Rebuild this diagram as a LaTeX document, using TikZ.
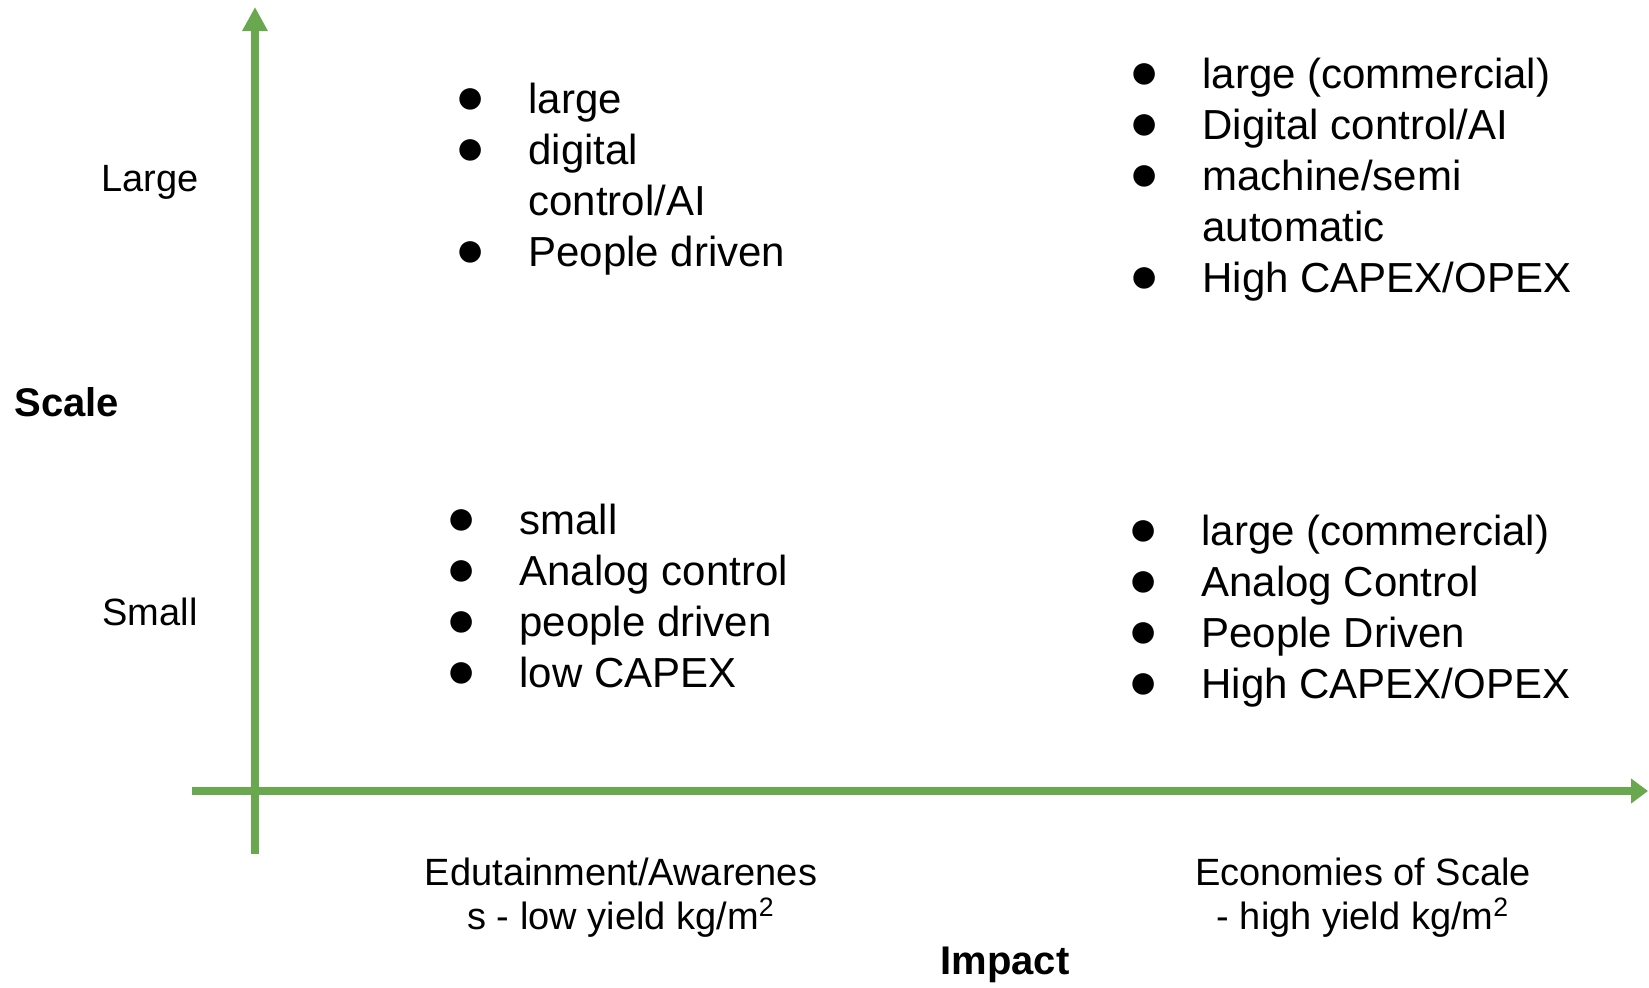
\documentclass[tikz,border=0pt]{standalone}
\usepackage{fontspec}
\setmainfont{Liberation Sans}
\usetikzlibrary{arrows.meta}
\definecolor{axisgreen}{HTML}{6AA84F}
\newcommand\bul{\makebox[34pt][l]{\hspace*{-2.5pt}{\fontsize{25pt}{25pt}\selectfont ●}}}
\newcommand\gap{\hspace*{34pt}}
\begin{document}
\begin{tikzpicture}[x=0.5pt,y=-0.5pt,
  axis/.style={axisgreen,line width=4pt},
  quad/.style={anchor=base west,inner sep=0pt,align=left,
    font=\fontsize{21pt}{25.5pt}\selectfont},
  side/.style={inner sep=0pt,font=\fontsize{19pt}{22pt}\selectfont},
  title/.style={inner sep=0pt,font=\fontsize{20pt}{24pt}\selectfont\bfseries}]
\useasboundingbox (0,0) rectangle (1649,987);
% axes
\coordinate (ybot) at (255,854);
\coordinate (ytop) at (255,7);
\coordinate (xleft) at (192,791);
\coordinate (xright) at (1648,791);
\draw [axis,-{Triangle[length=12pt,width=12pt]}] (ybot) -- (ytop);
\draw [axis,-{Triangle[length=8.5pt,width=12pt]}] (xleft) -- (xright);
% axis labels (base = last line)
\node [side,anchor=base] (large) at (150,191) {Large};
\node [side,anchor=base] (small) at (150,625) {Small};
\node [title,anchor=base west] (scale) at (14,416) {Scale};
\node [title,anchor=base] (impact) at (1005,974) {Impact};
\node [side,anchor=base,align=center] (edu) at (621,929)
  {Edutainment/Awarenes\\s - low yield kg/m\textsuperscript{2}};
\node [side,anchor=base,align=center] (eco) at (1363,929)
  {Economies of Scale\\- high yield kg/m\textsuperscript{2}};
% quadrants
\node [quad] (topleft) at (460,266)
  {\bul large\\\bul digital\\\gap control/AI\\\bul People driven};
\node [quad] (topright) at (1134,292)
  {\bul large (commercial)\\\bul Digital control/AI\\\bul machine/semi\\\gap automatic\\\bul High CAPEX/OPEX};
\node [quad] (botleft) at (451,687)
  {\bul small\\\bul Analog control\\\bul people driven\\\bul low CAPEX};
\node [quad] (botright) at (1133,698)
  {\bul large (commercial)\\\bul Analog Control\\\bul People Driven\\\bul High CAPEX/OPEX};
\end{tikzpicture}
\end{document}
